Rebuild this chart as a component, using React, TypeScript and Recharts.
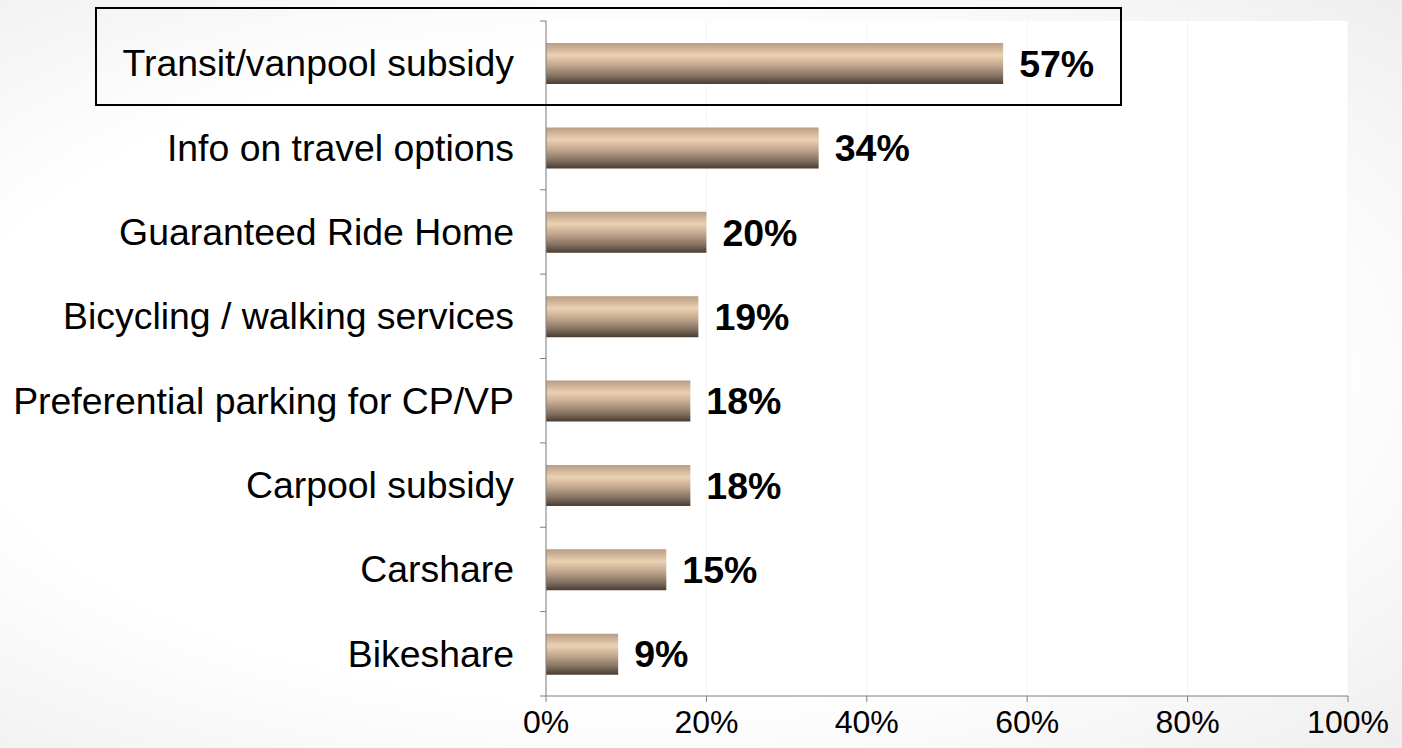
import { BarChart, Bar, XAxis, YAxis, CartesianGrid, LabelList } from 'recharts';

const categories = [
  'Transit/vanpool subsidy',
  'Info on travel options',
  'Guaranteed Ride Home',
  'Bicycling / walking services',
  'Preferential parking for CP/VP',
  'Carpool subsidy',
  'Carshare',
  'Bikeshare',
];
const shares = [57, 34, 20, 19, 18, 18, 15, 9];
const xTicks = [0, 20, 40, 60, 80, 100];

const data = categories.map((name, i) => ({ name, share: shares[i] }));

const FONT = '"Liberation Sans", Arial, sans-serif';
const AXIS = '#7f7f7f';

// category label, plus the small tick on the band edge (not the centre)
function CategoryTick(props: any) {
  const { x, y, payload, index, visibleTicksCount } = props;
  const half = payload?.offset ?? 42;
  const axisX = x + 32;
  const last = index === (visibleTicksCount ?? categories.length) - 1;
  return (
    <g>
      <text x={x} y={y} textAnchor="end" dominantBaseline="central"
        fontFamily={FONT} fontSize={37.4} fill="#000">
        {payload.value}
      </text>
      <line x1={axisX - 6} x2={axisX} y1={y - half} y2={y - half} stroke={AXIS} />
      {last && <line x1={axisX - 6} x2={axisX} y1={y + half} y2={y + half} stroke={AXIS} />}
    </g>
  );
}

export default function App() {
  return (
    <div style={{
      position: 'absolute', left: 0, top: 0, width: 1402, height: 748,
      background: 'radial-gradient(ellipse at 45% 50%, #ffffff 62%, #eeeeee 100%)',
    }}>
      <BarChart width={1402} height={748} data={data} layout="vertical"
        margin={{ top: 21, right: 54, bottom: 0, left: 0 }}>
        <defs>
          <linearGradient id="barGrad" x1="0" y1="0" x2="0" y2="1">
            <stop offset="0%" stopColor="#b99d84" />
            <stop offset="30%" stopColor="#ecd0b2" />
            <stop offset="55%" stopColor="#c0a68d" />
            <stop offset="80%" stopColor="#857262" />
            <stop offset="100%" stopColor="#4a3c32" />
          </linearGradient>
        </defs>
        <CartesianGrid horizontal={false} stroke="#f4f4f4" fill="#ffffff" />
        <XAxis type="number" domain={[0, 100]} ticks={xTicks} height={52}
          tickFormatter={(v) => `${v}%`} tickSize={6} tickMargin={8}
          stroke={AXIS} tick={{ fill: '#000', fontSize: 32, fontFamily: FONT }} />
        <YAxis type="category" dataKey="name" width={546} stroke={AXIS}
          tickLine={false} tickSize={0} tickMargin={32} interval={0}
          tick={<CategoryTick />} />
        <Bar dataKey="share" barSize={41} fill="url(#barGrad)" isAnimationActive={false}>
          <LabelList dataKey="share" position="right" offset={16}
            formatter={(v: any) => `${v}%`}
            style={{ fontFamily: FONT, fontSize: 37.5, fontWeight: 'bold', fill: '#000' }} />
        </Bar>
      </BarChart>
      {/* highlight box round the top row */}
      <div style={{
        position: 'absolute', left: 95, top: 7, width: 1023, height: 95,
        border: '2.5px solid #000', pointerEvents: 'none',
      }} />
    </div>
  );
}
